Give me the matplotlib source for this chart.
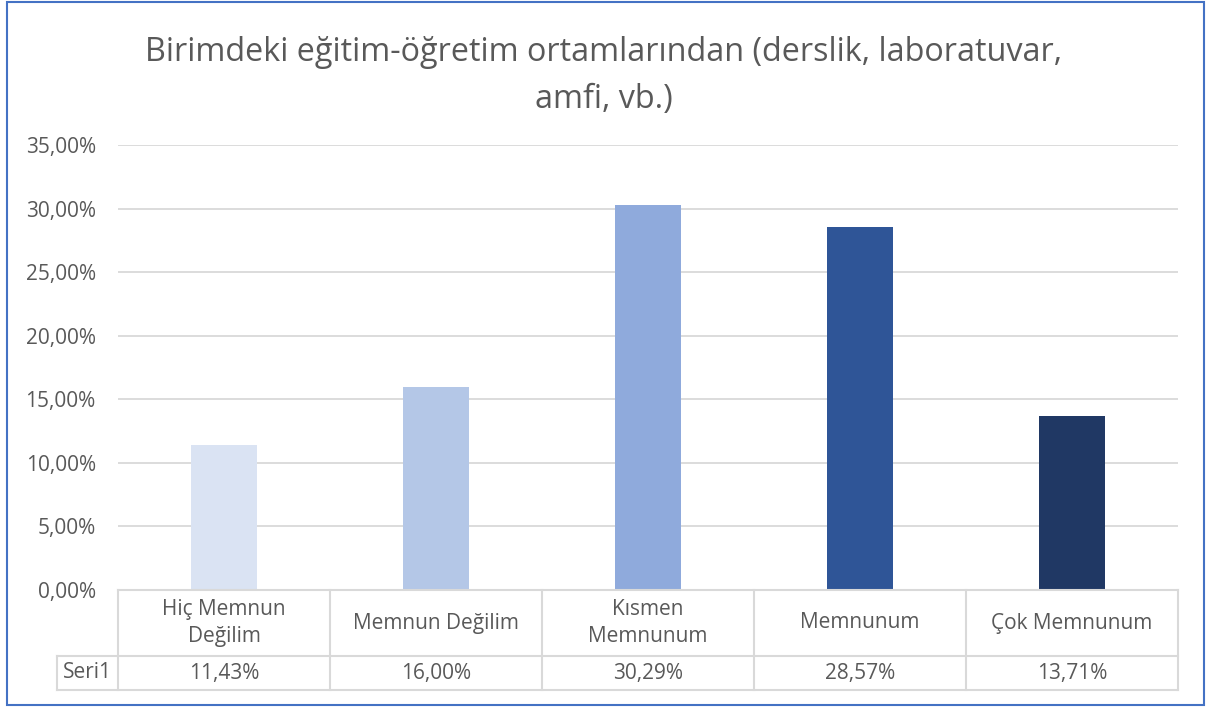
import matplotlib
matplotlib.use("Agg")
import matplotlib.pyplot as plt
from matplotlib.patches import Rectangle

# --- Data ---
categories = ["Hiç Memnun\nDeğilim", "Memnun Değilim", "Kısmen\nMemnunum", "Memnunum", "Çok Memnunum"]
values = [11.43, 16.00, 30.29, 28.57, 13.71]
series_name = "Seri1"
y_ticks = [0, 5, 10, 15, 20, 25, 30, 35]
title = "Birimdeki eğitim-öğretim ortamlarından (derslik, laboratuvar,\namfi, vb.)"

bar_colors = ["#DAE3F3", "#B4C7E7", "#8FAADC", "#2F5597", "#203864"]
text_color = "#595959"
grid_color = "#D9D9D9"

plt.rcParams["font.family"] = ["Open Sans", "DejaVu Sans"]

W, H = 1208, 708
fig = plt.figure(figsize=(W / 100, H / 100), dpi=100)

def px_box(x0, y0, x1, y1):
    # pixel box (top-left origin) -> figure fraction rect
    return [x0 / W, 1 - y1 / H, (x1 - x0) / W, (y1 - y0) / H]

# outer blue border
fig.patches.append(Rectangle((7 / W, 1 - 705 / H), 1197 / W, 703 / H,
                             transform=fig.transFigure, fill=False,
                             edgecolor="#4472C4", linewidth=1.5))

# --- Bars ---
ax = fig.add_axes(px_box(118, 145, 1178, 590))
x = range(len(values))
ax.bar(x, values, width=0.316, color=bar_colors, zorder=3)
ax.set_xlim(-0.5, len(values) - 0.5)
ax.set_ylim(0, 35)
ax.set_yticks(y_ticks)
ax.set_yticklabels([f"{t:.2f}%".replace(".", ",") for t in y_ticks],
                   fontsize=15, color=text_color)
ax.tick_params(axis="y", length=0, pad=16)
ax.set_xticks([])
ax.grid(axis="y", color=grid_color, linewidth=1.3, zorder=0)
for s in ax.spines.values():
    s.set_visible(False)

fig.text(0.5, 1 - 76 / H, title, ha="center", va="center",
         fontsize=23.3, color=text_color, linespacing=1.55)

# --- Data table ---
tx = fig.add_axes(px_box(118, 590, 1178, 690))
tx.set_xlim(-0.5, len(values) - 0.5)
tx.set_ylim(0, 100)
tx.axis("off")
left_edge = -0.5 - 61 / 212
row_split = 34
lw = 1.5
# horizontal lines
tx.plot([-0.5, len(values) - 0.5], [100, 100], color=grid_color, lw=lw, clip_on=False)
tx.plot([left_edge, len(values) - 0.5], [row_split, row_split], color=grid_color, lw=lw, clip_on=False)
tx.plot([left_edge, len(values) - 0.5], [0, 0], color=grid_color, lw=lw, clip_on=False)
# vertical lines
tx.plot([left_edge, left_edge], [0, row_split], color=grid_color, lw=lw, clip_on=False)
for i in range(len(values) + 1):
    tx.plot([i - 0.5, i - 0.5], [0, 100], color=grid_color, lw=lw, clip_on=False)

for i, (cat, v) in enumerate(zip(categories, values)):
    tx.text(i, (100 + row_split) / 2, cat, ha="center", va="center",
            fontsize=15, color=text_color, linespacing=1.42)
    tx.text(i, row_split / 2, f"{v:.2f}%".replace(".", ","), ha="center", va="center",
            fontsize=15, color=text_color)
tx.text((left_edge - 0.5) / 2, row_split / 2, series_name, ha="center", va="center",
        fontsize=15, color=text_color)

fig.savefig("out.png", dpi=100)
